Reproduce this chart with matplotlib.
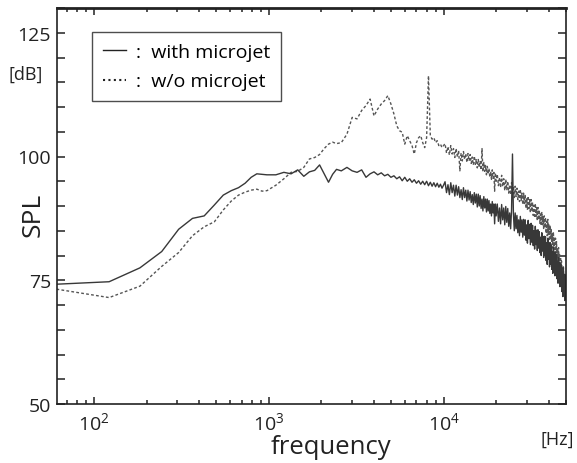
import matplotlib
matplotlib.use("Agg")
import matplotlib.pyplot as plt
from matplotlib.lines import Line2D
from matplotlib.ticker import FixedLocator, LogLocator, NullFormatter

plt.rcParams['font.family'] = ['Open Sans', 'DejaVu Sans']
plt.rcParams['mathtext.fontset'] = 'custom'
plt.rcParams['mathtext.rm'] = 'Open Sans'
plt.rcParams['mathtext.it'] = 'Open Sans'

# ---------------- data ----------------
freq_a = [61, 122, 183, 244, 305, 366, 427, 488, 549, 610, 671, 732, 793, 854, 915, 976]
with_a = [74.2, 74.7, 77.5, 80.8, 85.3, 87.5, 88.0, 90.2, 92.2, 93.1, 93.7, 94.6, 95.8, 96.5, 96.4, 96.3]
wo_a = [73.2, 71.5, 73.8, 77.8, 80.6, 84.0, 85.8, 86.8, 89.2, 91.0, 92.2, 92.8, 93.2, 93.4, 93.0, 93.1]

freq_b = [1098, 1220, 1342, 1464, 1586, 1708, 1831, 1953, 2075, 2197, 2319, 2441]
with_b = [96.3, 96.8, 96.5, 97.3, 96.0, 96.9, 97.2, 98.3, 96.5, 94.8, 96.4, 97.4]
wo_b = [94.2, 95.5, 96.8, 97.0, 97.8, 99.5, 99.8, 100.4, 101.6, 102.5, 102.9, 102.6]

freq_c = [2600, 2800, 3000, 3200, 3400, 3600, 3800, 4000, 4200, 4400, 4600, 4800, 5000,
          5200, 5400, 5600, 5800, 6000, 6200, 6400, 6600, 6800, 7000, 7200, 7400, 7600,
          7800, 8000, 8200, 8400, 8600, 8800, 9000, 9200, 9400, 9600, 9800, 10000]
with_c = [97.1, 97.8, 97.1, 96.8, 97.3, 95.8, 96.5, 96.9, 96.3, 96.7, 96.1, 96.4, 95.8,
          96.1, 95.5, 95.9, 95.1, 95.8, 95.0, 95.5, 94.8, 95.3, 94.6, 95.1, 94.4, 95.0,
          94.3, 95.0, 94.1, 94.8, 94.0, 94.7, 93.9, 94.6, 93.8, 94.4, 93.6, 94.2]
wo_c = [102.8, 104.5, 107.9, 107.6, 109.3, 110.3, 111.6, 108.2, 109.6, 110.6, 111.3, 112.3, 110.6,
        108.6, 106.2, 105.2, 104.9, 102.5, 104.2, 103.2, 102.2, 100.5, 102.8, 103.8, 104.2, 102.8,
        101.8, 103.8, 116.3, 104.2, 103.5, 103.8, 102.8, 103.2, 102.2, 102.5, 101.8, 102.2]

freq_d = [10200, 10400, 10600, 10800, 11000, 11200, 11400, 11600, 11800, 12000,
          12200, 12400, 12600, 12800, 13000, 13200, 13400, 13600, 13800, 14000,
          14200, 14400, 14600, 14800, 15000, 15200, 15400, 15600, 15800, 16000,
          16200, 16400, 16600, 16800, 17000, 17200, 17400, 17600, 17800, 18000,
          18200, 18400, 18600, 18800, 19000, 19200, 19400, 19600, 19800, 20000]
with_d = [94.9, 92.7, 94.3, 92.3, 94.7, 92.7, 94.2, 92.0, 94.2, 92.2,
          93.9, 91.7, 93.3, 91.3, 93.7, 91.7, 93.2, 91.0, 93.2, 91.2,
          92.9, 90.7, 92.3, 90.3, 92.7, 90.6, 92.4, 89.8, 92.4, 90.0,
          92.1, 89.5, 91.4, 89.0, 91.9, 89.6, 91.4, 88.8, 91.4, 89.0,
          91.1, 88.5, 90.4, 88.0, 90.9, 88.6, 90.4, 86.4, 90.4, 88.0]
wo_d = [102.6, 100.7, 102.0, 100.3, 102.2, 100.5, 101.6, 99.8, 101.6, 99.9,
        101.2, 97.1, 100.7, 99.1, 101.0, 99.4, 100.6, 98.8, 100.6, 99.1,
        100.4, 98.6, 99.9, 98.3, 100.1, 98.4, 99.5, 97.7, 99.4, 97.8,
        99.1, 97.3, 101.6, 96.9, 98.8, 97.0, 98.2, 96.3, 98.0, 96.4,
        97.6, 95.8, 97.0, 95.4, 97.3, 95.6, 96.8, 93.0, 96.7, 95.0]

freq_e = [20300, 20600, 20900, 21200, 21500, 21800, 22100, 22400, 22700, 23000,
          23300, 23600, 23900, 24200, 24500, 24800, 25100, 25400, 25700, 26000,
          26300, 26600, 26900, 27200, 27500, 27800, 28100, 28400, 28700, 29000,
          29300, 29600, 29900, 30200, 30500, 30800, 31100, 31400, 31700, 32000,
          32300, 32600, 32900, 33200, 33500, 33800, 34100, 34400, 34700, 35000,
          35300, 35600, 35900, 36200, 36500, 36800, 37100, 37400, 37700, 38000,
          38300, 38600, 38900, 39200, 39500, 39800, 40100, 40400, 40700, 41000,
          41300, 41600, 41900, 42200, 42500, 42800, 43100, 43400, 43700, 44000,
          44300, 44600, 44900, 45200, 45500, 45800, 46100, 46400, 46700, 47000,
          47300, 47600, 47900, 48200, 48500, 48800, 49100, 49400, 49700, 50000]
with_e = [90.4, 86.9, 89.6, 86.4, 90.3, 87.2, 89.6, 86.2, 89.9, 86.7,
          89.5, 85.9, 88.6, 85.4, 89.2, 100.5, 88.5, 85.0, 88.6, 85.4,
          88.1, 84.6, 87.2, 84.0, 87.9, 84.7, 87.2, 83.7, 87.3, 84.1,
          87.2, 83.1, 86.2, 82.5, 87.1, 83.4, 86.3, 82.2, 86.5, 82.7,
          86.1, 82.0, 85.0, 81.3, 85.9, 82.2, 85.1, 81.0, 85.2, 81.5,
          84.8, 80.6, 83.7, 80.0, 84.6, 80.9, 83.8, 79.6, 83.9, 80.1,
          83.8, 79.0, 82.6, 78.2, 83.5, 79.2, 82.5, 77.7, 82.6, 78.2,
          82.0, 77.2, 80.8, 76.4, 81.7, 77.4, 80.7, 75.9, 80.7, 76.4,
          80.2, 75.3, 78.8, 74.4, 79.6, 75.2, 78.5, 73.7, 78.5, 74.0,
          78.0, 72.7, 76.5, 71.7, 77.5, 72.6, 76.2, 70.9, 76.1, 71.3]
wo_e = [96.4, 94.1, 95.8, 93.7, 96.2, 93.9, 95.5, 93.1, 95.4, 93.3,
        95.0, 92.6, 94.3, 92.3, 94.7, 92.5, 94.0, 91.7, 94.0, 91.9,
        93.6, 91.3, 93.0, 90.9, 93.4, 91.1, 92.6, 90.3, 92.6, 90.5,
        92.3, 89.6, 91.6, 89.2, 92.0, 89.5, 91.3, 88.6, 91.3, 88.9,
        90.8, 88.1, 90.1, 87.6, 90.5, 87.9, 89.7, 87.0, 89.7, 87.2,
        89.2, 86.5, 88.4, 86.0, 88.8, 86.2, 88.0, 85.3, 88.0, 85.6,
        87.7, 84.5, 86.9, 84.0, 87.3, 84.2, 86.3, 83.0, 86.1, 83.2,
        85.4, 82.1, 84.4, 81.5, 84.8, 81.7, 83.8, 80.4, 83.5, 80.5,
        82.8, 79.4, 81.5, 78.4, 81.6, 78.3, 80.2, 76.7, 79.7, 76.6,
        78.9, 75.1, 77.5, 74.1, 77.7, 74.0, 76.1, 72.2, 75.5, 72.0]

freq = freq_a + freq_b + freq_c + freq_d + freq_e
spl_with = with_a + with_b + with_c + with_d + with_e
spl_without = wo_a + wo_b + wo_c + wo_d + wo_e

y_major = [50, 75, 100, 125]
y_minor = [55, 60, 65, 70, 80, 85, 90, 95, 105, 110, 115, 120, 130]
legend_labels = [':  with microjet', ':  w/o microjet']

# ---------------- figure ----------------
W, H = 577, 464
fig = plt.figure(figsize=(W / 100, H / 100), dpi=100)
ax = fig.add_axes([56.5 / W, 1 - 405 / H, (565.7 - 56.5) / W, (405 - 9) / H])

ax.plot(freq, spl_without, color='#555555', lw=1.0, ls=(0, (2.0, 1.6)))
ax.plot(freq, spl_with, color='#383838', lw=1.0, ls='-')

ax.set_xscale('log')
ax.set_xlim(61, 50000)
ax.set_ylim(50, 130)

ax.yaxis.set_major_locator(FixedLocator(y_major))
ax.yaxis.set_minor_locator(FixedLocator(y_minor))
ax.xaxis.set_major_locator(LogLocator(base=10, numticks=10))
ax.xaxis.set_minor_locator(LogLocator(base=10, subs=[2, 3, 4, 5, 6, 7, 8, 9], numticks=20))
ax.xaxis.set_minor_formatter(NullFormatter())

ax.tick_params(axis='both', which='both', direction='in', top=True, right=True,
               colors='#222222', labelsize=14, width=1.1)
ax.tick_params(axis='y', which='both', length=6)
ax.tick_params(axis='x', which='major', length=5, pad=5)
ax.tick_params(axis='x', which='minor', length=3)
ax.tick_params(axis='y', which='major', pad=4)

for side, sp in ax.spines.items():
    sp.set_linewidth(1.2)
    sp.set_color('#222222')
ax.spines['top'].set_linewidth(2.0)

fig.text(331 / W, 1 - 448 / H, 'frequency', fontsize=18.5, ha='center', va='center', color='#222222')
fig.text(33 / W, 1 - 215 / H, 'SPL', fontsize=19, rotation=90, ha='center', va='center', color='#222222')
fig.text(8 / W, 1 - 75 / H, '[dB]', fontsize=13, ha='left', va='center', color='#222222')
fig.text(574 / W, 1 - 440 / H, '[Hz]', fontsize=13, ha='right', va='center', color='#222222')

handles = [Line2D([], [], color='#222222', lw=1.0, ls='-'),
           Line2D([], [], color='#222222', lw=1.5, ls=(0, (1.0, 1.6)))]
leg = ax.legend(handles, legend_labels, loc='upper left',
                bbox_to_anchor=((92 - 56.5) / (565.7 - 56.5), (405 - 33) / (405 - 9)),
                fontsize=14, frameon=True, fancybox=False, handlelength=1.2,
                handletextpad=0.5, borderpad=0.55, labelspacing=0.6, borderaxespad=0)
leg.get_frame().set_edgecolor('#222222')
leg.get_frame().set_linewidth(1.0)

fig.savefig('out.png', dpi=100)
